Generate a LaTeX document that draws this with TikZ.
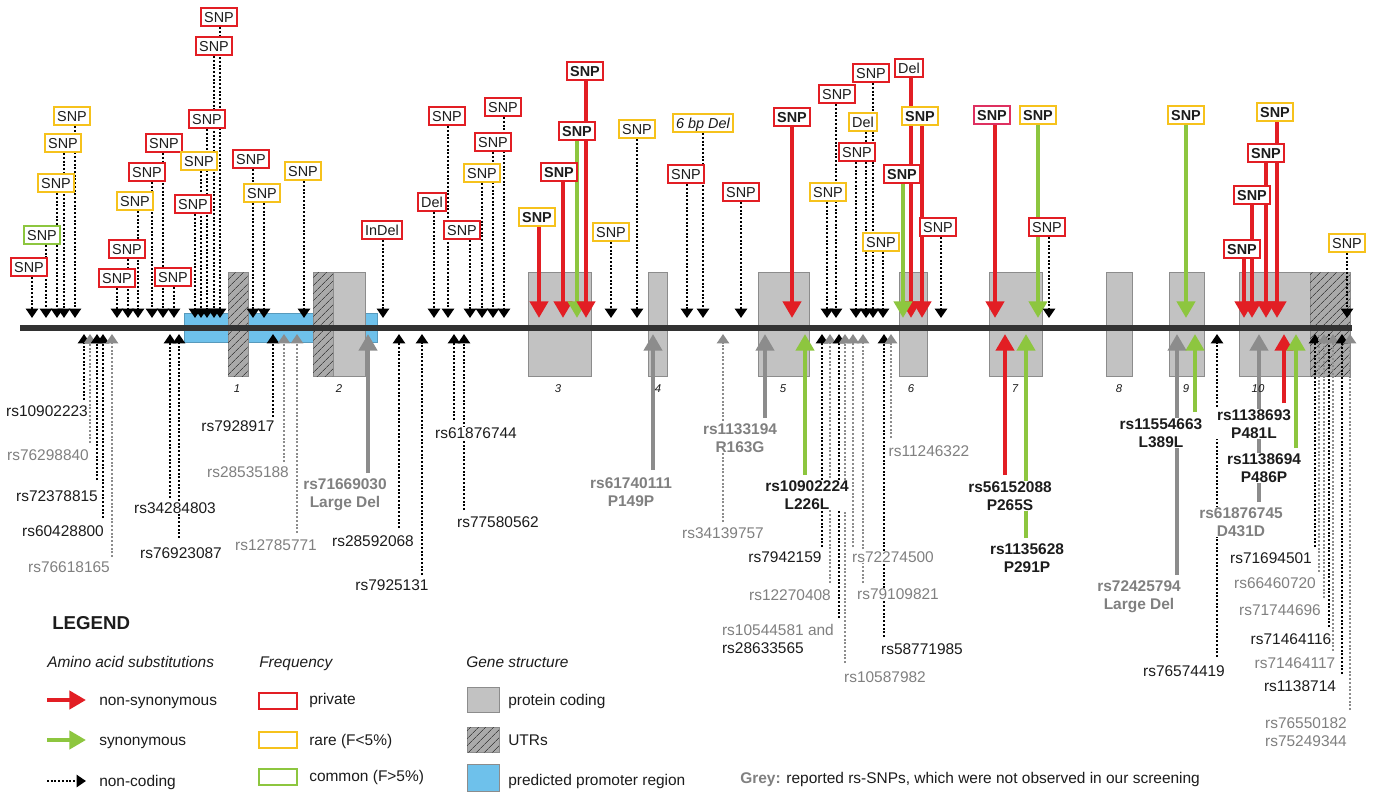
\documentclass[tikz,border=0pt]{standalone}
\usepackage{fontspec}
\setmainfont{Liberation Sans}
\usetikzlibrary{arrows.meta,patterns.meta}
\pgfdeclarelayer{back}
\pgfdeclarelayer{arr}
\pgfsetlayers{back,arr,main}
\definecolor{myred}{RGB}{226,30,36}
\definecolor{myyellow}{RGB}{246,194,28}
\definecolor{mygreen}{RGB}{141,198,63}
\definecolor{mypink}{RGB}{222,48,96}
\definecolor{arrgrey}{RGB}{140,140,140}
\definecolor{greytext}{RGB}{128,128,128}
\definecolor{txtblack}{RGB}{28,28,28}
\definecolor{exfill}{RGB}{194,194,194}
\definecolor{exborder}{RGB}{140,140,140}
\definecolor{utrfill}{RGB}{170,170,170}
\definecolor{utrline}{RGB}{70,70,70}
\definecolor{promblue}{RGB}{110,193,235}
\definecolor{lineblack}{RGB}{50,50,50}
\newcommand\snpfont{\fontsize{10.8}{12}\selectfont}
\newcommand\labfont{\fontsize{11.6}{13.5}\selectfont}
\tikzset{
  snpbox/.style={draw, line width=1.3pt, fill=white, inner xsep=2.4pt, inner ysep=0pt,
    minimum height=14pt, text height=7.7pt, text depth=0pt, font=\snpfont, text=txtblack},
  bxpr/.style={snpbox, draw=myred},
  bxra/.style={snpbox, draw=myyellow},
  bxco/.style={snpbox, draw=mygreen},
  bxprb/.style={bxpr, font=\snpfont\bfseries},
  bxrab/.style={bxra, font=\snpfont\bfseries},
  bxpkb/.style={snpbox, draw=mypink, font=\snpfont\bfseries},
  bxrai/.style={bxra, font=\snpfont\itshape},
  arrdot/.style={black, line width=1.8pt, dash pattern=on 1.5pt off 1.3pt,
    -{Triangle[width=9pt,length=7pt]}},
  bigarr/.style={line width=3.2pt, -{Triangle[width=13.5pt,length=12.5pt]}},
  arrred/.style={bigarr, myred},
  arrgrn/.style={bigarr, mygreen},
  arrgry/.style={bigarr, arrgrey},
  ukd/.style={arrdot},
  ugd/.style={arrdot, arrgrey},
  ukn/.style={black, line width=1.8pt, dash pattern=on 1.5pt off 1.3pt},
  ugn/.style={ukn, arrgrey},
  lab/.style={fill=white, inner sep=0.6pt, font=\labfont, align=center},
  lkn/.style={lab, text=txtblack},
  lgn/.style={lab, text=greytext},
  lkb/.style={lab, text=txtblack, font=\labfont\bfseries},
  lgb/.style={lab, text=greytext, font=\labfont\bfseries},
  exon/.style={fill=exfill, draw=exborder, line width=0.6pt},
  utr/.style={fill=utrfill, draw=exborder, line width=0.6pt,
    postaction={pattern={Lines[angle=45,distance=4pt,line width=0.5pt]}, pattern color=utrline}},
  blueprom/.style={fill=promblue, draw=promblue!80!black, line width=0.4pt},
  mainline/.style={lineblack, line width=5pt},
  legt/.style={anchor=west, inner sep=0pt, font=\labfont, text=txtblack, text height=8.2pt, text depth=0pt},
  legit/.style={legt, font=\labfont\itshape},
  exnum/.style={font=\fontsize{8.5}{10}\selectfont\itshape, text=txtblack, inner sep=0pt}
}
\begin{document}
\begin{tikzpicture}[x=0.75pt,y=-0.75pt]
\useasboundingbox (0,0) rectangle (1374,800);

% gene structure
\begin{pgfonlayer}{back}
  \fill[white] (0,0) rectangle (1374,800);
  \draw[blueprom] (184,313) rectangle (377,342);
  \foreach \a/\b in {333/365,528/591,648/667,758/809,899/927,989/1042,1106/1132,1169/1204,1239/1310}
    \draw[exon] (\a,272) rectangle (\b,376);
  \foreach \a/\b in {228/248,313/333,1310/1350}
    \draw[utr] (\a,272) rectangle (\b,376);
  \draw[mainline] (20,328) -- (1352,328);
\end{pgfonlayer}

\foreach \x/\n in {237/1,339/2,558/3,658/4,783/5,911/6,1015/7,1119/8,1186/9,1258/10}
  \node[exnum] (exn\n) at (\x,389) {\n};

% top variants
\foreach \bx/\by/\ax/\bs/\as/\tx [count=\i] in {
  29/267/32/bxpr/arrdot/SNP,
  42/235/46/bxco/arrdot/SNP,
  56/183/57/bxra/arrdot/SNP,
  63/143/64/bxra/arrdot/SNP,
  72/116/75/bxra/arrdot/SNP,
  117/278/117/bxpr/arrdot/SNP,
  127/249/128/bxpr/arrdot/SNP,
  135/201/138/bxra/arrdot/SNP,
  147/172/152/bxpr/arrdot/SNP,
  164/143/163/bxpr/arrdot/SNP,
  173/277/174/bxpr/arrdot/SNP,
  193/204/195/bxpr/arrdot/SNP,
  199/161/201/bxra/arrdot/SNP,
  207/119/207/bxpr/arrdot/SNP,
  214/46/214/bxpr/arrdot/SNP,
  219/17/220/bxpr/arrdot/SNP,
  251/159/253/bxpr/arrdot/SNP,
  262/193/264/bxra/arrdot/SNP,
  303/171/304/bxra/arrdot/SNP,
  382/230/383/bxpr/arrdot/InDel,
  432/202/434/bxpr/arrdot/Del,
  447/116/448/bxpr/arrdot/SNP,
  462/230/470/bxpr/arrdot/SNP,
  482/173/482/bxra/arrdot/SNP,
  493/142/493/bxpr/arrdot/SNP,
  503/107/504/bxpr/arrdot/SNP,
  537/217/539/bxrab/arrred/SNP,
  559/172/563/bxprb/arrred/SNP,
  577/131/577/bxprb/arrgrn/SNP,
  585/71/586/bxprb/arrred/SNP,
  611/232/611/bxra/arrdot/SNP,
  637/129/637/bxra/arrdot/SNP,
  686/174/687/bxpr/arrdot/SNP,
  703/123/703/bxrai/arrdot/6 bp Del,
  741/192/741/bxpr/arrdot/SNP,
  792/117/792/bxprb/arrred/SNP,
  828/192/827/bxra/arrdot/SNP,
  837/94/836/bxpr/arrdot/SNP,
  871/73/873/bxpr/arrdot/SNP,
  863/122/866/bxra/arrdot/Del,
  857/152/856/bxpr/arrdot/SNP,
  881/242/883/bxra/arrdot/SNP,
  909/68/911/bxpr/arrred/Del,
  920/116/922/bxrab/arrred/SNP,
  902/174/903/bxprb/arrgrn/SNP,
  938/227/941/bxpr/arrdot/SNP,
  992/115/995/bxpkb/arrred/SNP,
  1038/115/1038/bxrab/arrgrn/SNP,
  1047/227/1049/bxpr/arrdot/SNP,
  1186/115/1186/bxrab/arrgrn/SNP,
  1275/112/1277/bxrab/arrred/SNP,
  1266/153/1266/bxprb/arrred/SNP,
  1252/195/1252/bxprb/arrred/SNP,
  1242/249/1244/bxprb/arrred/SNP,
  1347/243/1347/bxra/arrdot/SNP}{
  \node[\bs] (top\i) at (\bx,\by) {\tx};
  \coordinate (toptip\i) at (\ax,318);
  \begin{pgfonlayer}{arr}
    \draw[\as] (top\i.south -| toptip\i) -- (toptip\i);
  \end{pgfonlayer}
}

% bottom dotted connectors
\foreach \x/\ye/\st [count=\i] in {
  84/400/ukd, 90/443/ugd, 97/480/ukd, 103/518/ukd, 112/557/ugd,
  170/498/ukd, 179/538/ukd,
  273/417/ukd, 284/462/ugd, 297/533/ugd,
  399/528/ukd, 422/575/ukd, 454/420/ukd, 464/510/ukd,
  723/522/ugd,
  822/547/ukd, 830/583/ugd, 839/618/ukd, 845/663/ugd, 853/547/ugd, 863/583/ugd,
  884/637/ukd, 891/438/ugd,
  1217/657/ukd,
  1315/547/ukd, 1319/572/ugn, 1324/598/ugd, 1329/627/ukn, 1333/651/ugd, 1342/674/ukd, 1350/710/ugd}{
  \coordinate (bt\i) at (\x,334);
  \coordinate (be\i) at (\x,\ye);
  \begin{pgfonlayer}{arr}
    \draw[\st] (be\i) -- (bt\i);
  \end{pgfonlayer}
}

% bottom coding connectors
\foreach \x/\ys/\st [count=\i] in {
  368/473/arrgry, 653/470/arrgry, 765/418/arrgry, 805/475/arrgrn,
  1005/475/arrred, 1026/538/arrgrn, 1177/575/arrgry, 1195/412/arrgrn,
  1259/502/arrgry, 1284/403/arrred, 1296/448/arrgrn}{
  \coordinate (ub\i) at (\x,\ys);
  \coordinate (ut\i) at (\x,334);
  \begin{pgfonlayer}{arr}
    \draw[\st] (ub\i) -- (ut\i);
  \end{pgfonlayer}
}

% bottom labels
\foreach \x/\y/\st/\tx [count=\i] in {
  47/411/lkn/rs10902223,
  48/455/lgn/rs76298840,
  57/496/lkn/rs72378815,
  63/531/lkn/rs60428800,
  69/567/lgn/rs76618165,
  175/508/lkn/rs34284803,
  181/553/lkn/rs76923087,
  238/426/lkn/rs7928917,
  248/472/lgn/rs28535188,
  276/545/lgn/rs12785771,
  345/495/lgb/rs71669030\\Large Del,
  373/541/lkn/rs28592068,
  392/585/lkn/rs7925131,
  476/433/lkn/rs61876744,
  498/522/lkn/rs77580562,
  631/492/lgb/rs61740111\\P149P,
  740/438/lgb/rs1133194\\R163G,
  723/533/lgn/rs34139757,
  807/495/lkb/rs10902224\\L226L,
  785/557/lkn/rs7942159,
  790/595/lgn/rs12270408,
  885/677/lgn/rs10587982,
  893/557/lgn/rs72274500,
  898/594/lgn/rs79109821,
  922/649/lkn/rs58771985,
  929/451/lgn/rs11246322,
  1010/496/lkb/rs56152088\\P265S,
  1027/558/lkb/rs1135628\\P291P,
  1161/433/lkb/rs11554663\\L389L,
  1139/597/lgb/rs72425794\\Large Del,
  1184/671/lkn/rs76574419,
  1254/424/lkb/rs1138693\\P481L,
  1264/468/lkb/rs1138694\\P486P,
  1241/522/lgb/rs61876745\\D431D,
  1271/558/lkn/rs71694501,
  1275/583/lgn/rs66460720,
  1280/610/lgn/rs71744696,
  1291/639/lkn/rs71464116,
  1295/663/lgn/rs71464117,
  1300/686/lkn/rs1138714,
  1306/732/lgn/rs76550182\\rs75249344}{
  \node[\st] (lab\i) at (\x,\y) {\tx};
}
\node[lgn, anchor=west] (labA) at (721,630) {rs10544581 and};
\node[lkn, anchor=west] (labB) at (721,648) {rs28633565};

% legend
\node[anchor=west, inner sep=0pt, font=\fontsize{14}{16}\selectfont\bfseries, text=txtblack,
  text height=10pt, text depth=0pt] (legend) at (52,623) {LEGEND};
\node[legit] (h1) at (47,662) {Amino acid substitutions};
\node[legit] (h2) at (259,662) {Frequency};
\node[legit] (h3) at (466,662) {Gene structure};

\coordinate (la1) at (47,700); \coordinate (lb1) at (86,700);
\coordinate (la2) at (47,740); \coordinate (lb2) at (86,740);
\coordinate (la3) at (47,781); \coordinate (lb3) at (86,781);
\draw[arrred] (la1) -- (lb1);
\draw[arrgrn] (la2) -- (lb2);
\draw[arrdot] (la3) -- (lb3);
\node[legt] (lt1) at (99,700) {non-synonymous};
\node[legt] (lt2) at (99,740) {synonymous};
\node[legt] (lt3) at (99,781) {non-coding};

\node[snpbox, draw=myred, minimum width=28.5pt, minimum height=12.5pt] (fb1) at (278,701) {};
\node[snpbox, draw=myyellow, minimum width=28.5pt, minimum height=12.5pt] (fb2) at (278,740) {};
\node[snpbox, draw=mygreen, minimum width=28.5pt, minimum height=12.5pt] (fb3) at (278,777) {};
\node[legt] (ft1) at (309,699) {private};
\node[legt] (ft2) at (309,740) {rare (F<5\%)};
\node[legt] (ft3) at (309,776) {common (F>5\%)};

\node[exon, minimum width=24pt, minimum height=19pt, inner sep=0pt] (gs1) at (483,700) {};
\node[utr, minimum width=24pt, minimum height=19pt, inner sep=0pt] (gs2) at (483,740) {};
\node[blueprom, draw=exborder, minimum width=24pt, minimum height=20pt, inner sep=0pt] (gs3) at (483,778) {};
\node[legt] (gt1) at (508,700) {protein coding};
\node[legt] (gt2) at (508,740) {UTRs};
\node[legt] (gt3) at (508,780) {predicted promoter region};

\node[legt] (note) at (740,778) {\textcolor{greytext}{\bfseries Grey:} reported rs-SNPs, which were not observed in our screening};
\end{tikzpicture}
\end{document}
